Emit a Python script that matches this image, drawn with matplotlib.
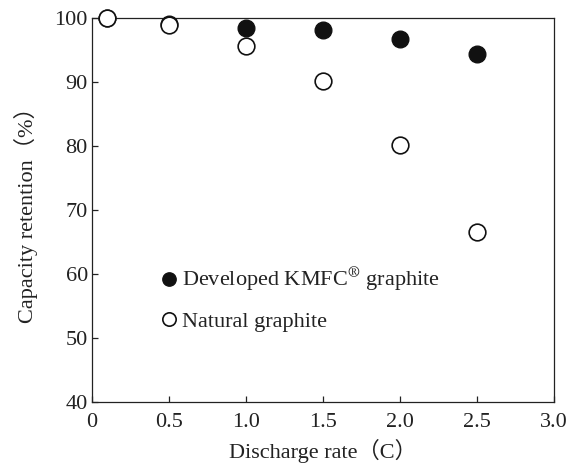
import matplotlib
matplotlib.use('Agg')
import matplotlib.pyplot as plt

# discharge rate (C) and capacity retention (%)
rate = [0.1, 0.5, 1.0, 1.5, 2.0, 2.5]
kmfc = [100.0, 99.0, 98.5, 98.1, 96.7, 94.3]
natural = [100.0, 98.9, 95.7, 90.2, 80.2, 66.5]

xticks = [0, 0.5, 1.0, 1.5, 2.0, 2.5, 3.0]
xticklabels = ['0', '0.5', '1.0', '1.5', '2.0', '2.5', '3.0']
yticks = [40, 50, 60, 70, 80, 90, 100]

plt.rcParams['font.family'] = ['Liberation Serif', 'Noto Sans CJK SC']
plt.rcParams['mathtext.fontset'] = 'stix'

fig = plt.figure(figsize=(5.73, 4.68), dpi=100)
ax = fig.add_axes([0.1606, 0.141, 0.8062, 0.8205])

ax.plot(rate, kmfc, 'o', ms=12, mfc='#111111', mec='#111111', mew=1.0,
        label='Developed KMFC$^{\\circledR}$ graphite', clip_on=False, zorder=3)
ax.plot(rate, natural, 'o', ms=12, mfc='white', mec='#111111', mew=1.2,
        label='Natural graphite', clip_on=False, zorder=4)

ax.set_xlim(0, 3.0)
ax.set_ylim(40, 100)
ax.set_xticks(xticks)
ax.set_xticklabels(xticklabels)
ax.set_yticks(yticks)
ax.tick_params(direction='in', length=4, width=0.9, labelsize=16,
               colors='#222222')
ax.tick_params(axis='x', pad=8)
ax.tick_params(axis='y', pad=3)

for s in ax.spines.values():
    s.set_linewidth(0.9)
    s.set_color('#222222')

ax.set_xlabel('Discharge rate\uff08C\uff09', fontsize=16, labelpad=5,
              color='#222222')
ax.set_ylabel('Capacity retention\uff08%\uff09', fontsize=16, labelpad=12,
              color='#222222')

leg = ax.legend(loc='upper left', bbox_to_anchor=(0.129, 0.383), frameon=False,
                fontsize=16, markerscale=0.8, handlelength=0.55,
                handletextpad=0.3, labelspacing=0.78, borderpad=0)
for t in leg.get_texts():
    t.set_color('#222222')

fig.savefig('out.png', dpi=100)
